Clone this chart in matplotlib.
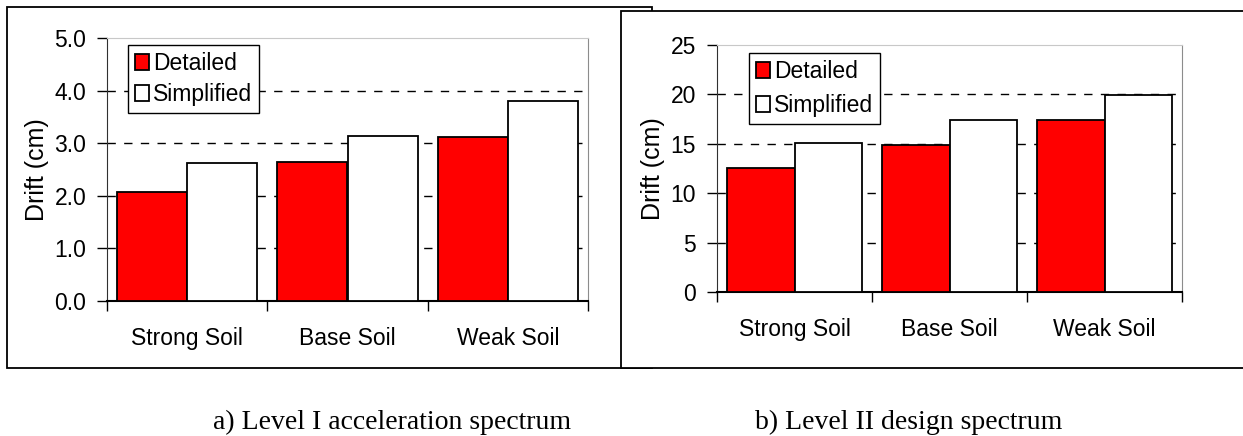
import numpy as np
import matplotlib
matplotlib.use("Agg")
from matplotlib import pyplot as plt
from matplotlib.patches import Rectangle

# --data-- #
soils = ["Strong Soil", "Base Soil", "Weak Soil"]
series = ["Detailed", "Simplified"]
level1_detailed = [2.08, 2.65, 3.12]
level1_simplified = [2.62, 3.13, 3.81]
level2_detailed = [12.6, 14.9, 17.4]
level2_simplified = [15.1, 17.4, 19.9]
captions = ["a) Level I acceleration spectrum", "b) Level II design spectrum"]

W, H = 1243, 436
plt.rcParams["font.family"] = ["Liberation Sans", "DejaVu Sans"]
fig = plt.figure(figsize=(W / 100, H / 100), dpi=100)


def px_rect(x0, y0, x1, y1):
    # pixel box (top-left origin) -> figure fraction [left, bottom, width, height]
    return [x0 / W, 1 - y1 / H, (x1 - x0) / W, (y1 - y0) / H]


# --outer frames, right one drawn over the left one-- #
for i, (x0, y0, x1, y1) in enumerate([(7, 7, 652, 368), (621, 11, 1260, 368)]):
    l, b, w, h = px_rect(x0, y0, x1, y1)
    fig.patches.append(Rectangle((l, b), w, h, transform=fig.transFigure,
                                 facecolor="white", edgecolor="black", lw=1.3,
                                 zorder=-2 + i))


def drift_panel(rect, detailed, simplified, ymax, ystep, fmt, ylabel_x, legend_box, lspace):
    ax = fig.add_axes(px_rect(*rect))
    ax.patch.set_alpha(0)
    x = np.arange(len(soils))
    w = 0.4375
    ax.bar(x - w / 2, detailed, w, color="#ff0000", edgecolor="black", lw=1.3,
           label=series[0], zorder=3)
    ax.bar(x + w / 2, simplified, w, color="white", edgecolor="black", lw=1.3,
           label=series[1], zorder=3)
    ax.set_xlim(-0.5, len(soils) - 0.5)
    ax.set_ylim(0, ymax)
    ax.set_yticks(np.arange(0, ymax + ystep / 2, ystep))
    ax.yaxis.set_major_formatter(plt.FormatStrFormatter(fmt))
    ax.set_xticks(x)
    ax.set_xticklabels(soils)
    ax.set_xticks(np.arange(-0.5, len(soils)), minor=True)
    ax.tick_params(axis="x", which="major", length=0, pad=19, labelsize=16.5)
    ax.tick_params(axis="x", which="minor", length=7, width=1, color="black")
    ax.tick_params(axis="y", length=7, width=1, pad=8, labelsize=16.5)
    for y in np.arange(ystep, ymax - ystep / 2, ystep):
        ax.axhline(y, color="black", lw=1, ls=(0, (6, 6)), zorder=1)
    ax.axhline(ymax, color="#9a9a9a", lw=1.2, ls=(0, (6, 4)), zorder=1)
    ax.spines["top"].set_color("#c8c8c8")
    ax.spines["right"].set_color("#8c8c8c")
    ax.spines["left"].set_color("#303030")
    ax.spines["bottom"].set_linewidth(1.5)
    ax.set_ylabel("Drift (cm)", fontsize=18)
    ax.yaxis.set_label_coords((ylabel_x + 12 - rect[0]) / (rect[2] - rect[0]), 0.5)
    lx0, ly0, lx1, ly1 = legend_box
    bx = (lx0 - rect[0]) / (rect[2] - rect[0])
    by = 1 - (ly0 - rect[1]) / (rect[3] - rect[1])
    leg = ax.legend(loc="upper left", bbox_to_anchor=(bx, by), fontsize=16.5,
                    frameon=True, fancybox=False, framealpha=1, edgecolor="black",
                    handlelength=0.6, handleheight=0.7, handletextpad=0.2,
                    borderpad=0.3, labelspacing=lspace, borderaxespad=0)
    leg.get_frame().set_linewidth(1)
    return ax


drift_panel((107, 38, 588, 301), level1_detailed, level1_simplified, 5, 1, "%.1f",
            37, (128, 45, 262, 113), 0.35)
drift_panel((717, 45, 1182, 292), level2_detailed, level2_simplified, 25, 5, "%d",
            653, (749, 53, 880, 126), 0.5)

for cx, text in zip([392, 909], captions):
    fig.text(cx / W, 1 - 429 / H, text, ha="center", va="baseline",
             fontsize=20, family=["Liberation Serif", "DejaVu Serif"])

fig.savefig("out.png", dpi=100)
